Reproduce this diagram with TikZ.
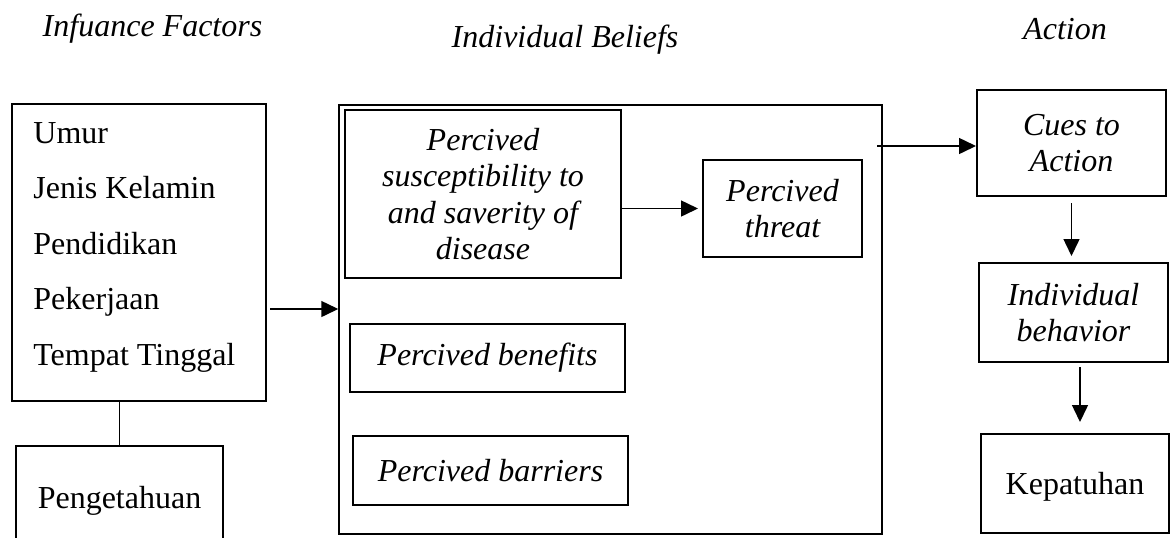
\documentclass[tikz,border=0pt]{standalone}
\usepackage{fontspec}
\setmainfont{Liberation Serif}
\usetikzlibrary{arrows.meta}
\begin{document}
\begin{tikzpicture}[x=0.5pt,y=-0.5pt,
  every node/.style={font=\fontsize{16}{18.3}\selectfont},
  box/.style={draw,line width=1pt,inner sep=0pt,align=center},
  it/.style={font=\fontsize{16}{18.3}\selectfont\itshape},
  hdr/.style={font=\fontsize{16}{18.3}\selectfont\itshape,anchor=base,inner sep=0pt},
  arr/.style={line width=0.75pt,-{Triangle[length=8.5pt,width=8pt]}},
  ln/.style={line width=0.8pt}]
\clip (0,0) rectangle (1173,537);
\fill[white] (0,0) rectangle (1173,537);
% headers
\node[hdr] (h1) at (152.5,36) {Infuance Factors};
\node[hdr] (h2) at (565,47) {Individual Beliefs};
\node[hdr] (h3) at (1065,39) {Action};
% influence factors
\node[box,minimum width=127pt,minimum height=148.5pt] (lf) at (139,252.5) {};
\node[anchor=north west,inner sep=0pt,align=left,font=\fontsize{16}{27.75}\selectfont] (lft) at (33,122) {Umur\\Jenis Kelamin\\Pendidikan\\Pekerjaan\\Tempat Tinggal};
\node[box,text depth=0pt,minimum width=103.5pt,minimum height=51pt] (pg) at (119.5,497) {Pengetahuan};
\draw[ln] (pg.north |- lf.south) -- (pg.north);
% individual beliefs
\node[draw,line width=0.75pt,minimum width=271.5pt,minimum height=214.5pt,inner sep=0pt] (bb) at (610.5,319.5) {};
\coordinate (a1) at (270,309);
\draw[arr] (a1) -- (a1 -| bb.west);
\node[box,it,minimum width=138pt,minimum height=84pt] (sus) at (483,194) {Percived\\susceptibility to\\and saverity of\\disease};
\node[box,it,minimum width=79.5pt,minimum height=48.5pt] (thr) at (782.5,208.5) {Percived\\threat};
\draw[arr,shorten >=2pt] (sus.east |- thr.west) -- (thr.west);
\node[box,it,minimum width=137.5pt,minimum height=34pt] (ben) at (487.5,358) {Percived benefits};
\node[box,it,minimum width=137.5pt,minimum height=34.5pt] (bar) at (490.5,470.5) {Percived barriers};
% action
\node[box,it,minimum width=94.5pt,minimum height=53pt] (cue) at (1071.5,143) {Cues to\\Action};
\coordinate (a2) at (877,146);
\draw[arr] (a2) -- (a2 -| cue.west);
\node[box,it,minimum width=94.5pt,minimum height=49.5pt] (ib) at (1073.5,312.5) {Individual\\behavior};
\draw[arr,shorten <=3pt,shorten >=3pt] (cue.south) -- (cue.south |- ib.north);
\node[box,text depth=0pt,minimum width=94pt,minimum height=49.5pt] (kep) at (1075,483.5) {Kepatuhan};
\coordinate (a3) at (1080,367);
\draw[arr,shorten >=5.5pt] (a3) -- (a3 |- kep.north);
\end{tikzpicture}
\end{document}
